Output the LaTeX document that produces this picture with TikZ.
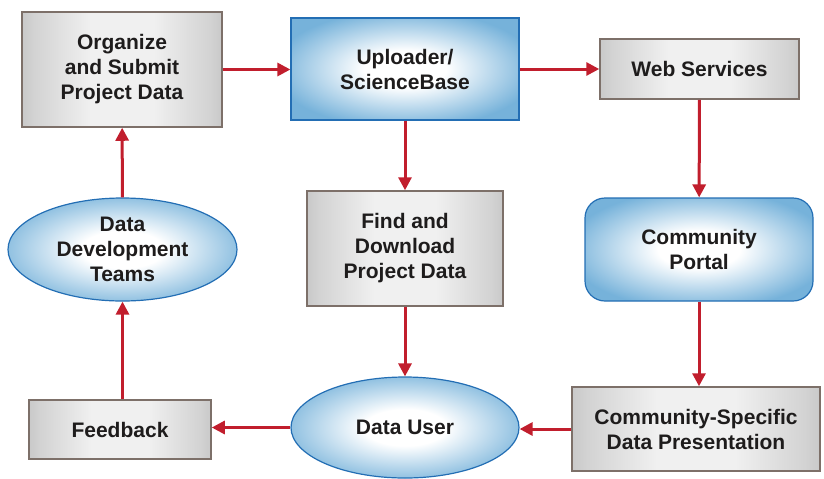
\documentclass[tikz,border=0pt]{standalone}
\usepackage{fontspec}
\setmainfont{Liberation Sans}
\usetikzlibrary{arrows.meta,shapes.geometric}
\definecolor{txt}{RGB}{30,28,28}
\definecolor{flowred}{RGB}{193,30,45}
\definecolor{boxedge}{RGB}{125,112,105}
\definecolor{boxgray}{RGB}{166,166,166}
\definecolor{blueedge}{RGB}{35,110,180}
\definecolor{ovalblue}{RGB}{118,178,218}
\pgfdeclarehorizontalshading{grayband}{100bp}{color(0bp)=(boxgray); color(14bp)=(boxgray); color(28bp)=(boxgray!50!white); color(42bp)=(white!94!black); color(58bp)=(white!94!black); color(72bp)=(boxgray!50!white); color(86bp)=(boxgray); color(100bp)=(boxgray)}
\pgfdeclareradialshading{blueglow}{\pgfpoint{0bp}{0bp}}{color(0bp)=(white); color(9bp)=(white); color(29bp)=(ovalblue); color(50bp)=(ovalblue)}

\begin{document}
\begin{tikzpicture}[x=0.5pt,y=-0.5pt,
    font=\bfseries\fontsize{10.5}{12.5}\selectfont, text=txt,
    graybox/.style={draw=boxedge, line width=0.75pt, shading=grayband, align=center, inner sep=0pt},
    bluebox/.style={draw=blueedge, line width=0.6pt, shading=blueglow, align=center, inner sep=0pt},
    blueoval/.style={bluebox, ellipse},
    flow/.style={draw=flowred, line width=1.5pt, -{Triangle[length=6.5pt,width=6.5pt]}}]
    \useasboundingbox (0,0) rectangle (824,478);
    \node[graybox, minimum width=100pt, minimum height=57.5pt] (organize) at (122,69.5) {Organize\\and Submit\\Project Data};
    \node[bluebox, minimum width=114pt, minimum height=51pt] (uploader) at (405,69) {Uploader/\\ScienceBase};
    \node[graybox, minimum width=99.5pt, minimum height=30pt] (websvc) at (699.5,69) {Web Services};
    \node[bluebox, rounded corners=10pt, minimum width=114pt, minimum height=51.5pt] (portal) at (699,249.5) {Community\\Portal};
    \node[graybox, minimum width=98pt, minimum height=57.5pt] (finddl) at (405,248.5) {Find and\\Download\\Project Data};
    \node[blueoval, minimum width=114.5pt, minimum height=51.5pt] (devteams) at (122.5,249.5) {Data\\Development\\Teams};
    \node[graybox, minimum width=91pt, minimum height=29.5pt] (feedback) at (120,429.5) {Feedback};
    \node[blueoval, minimum width=114pt, minimum height=50.5pt] (datauser) at (405,427.5) {Data User};
    \node[graybox, minimum width=124pt, minimum height=42pt] (commspec) at (696,429) {Community-Specific\\Data Presentation};

    \draw[flow] (organize.east) -- (organize.east -| uploader.west);
    \draw[flow] (uploader.east) -- (uploader.east -| websvc.west);
    \draw[flow] (websvc) -- (portal);
    \draw[flow] (portal.south) -- (portal.south |- commspec.north);
    \draw[flow] (commspec.west) -- (commspec.west -| datauser.east);
    \draw[flow] (datauser.west) -- (datauser.west -| feedback.east);
    \draw[flow] (devteams.south |- feedback.north) -- (devteams.south);
    \draw[flow] (devteams) -- (organize);
    \draw[flow] (uploader) -- (finddl);
    \draw[flow] (finddl) -- (datauser);
\end{tikzpicture}
\end{document}
